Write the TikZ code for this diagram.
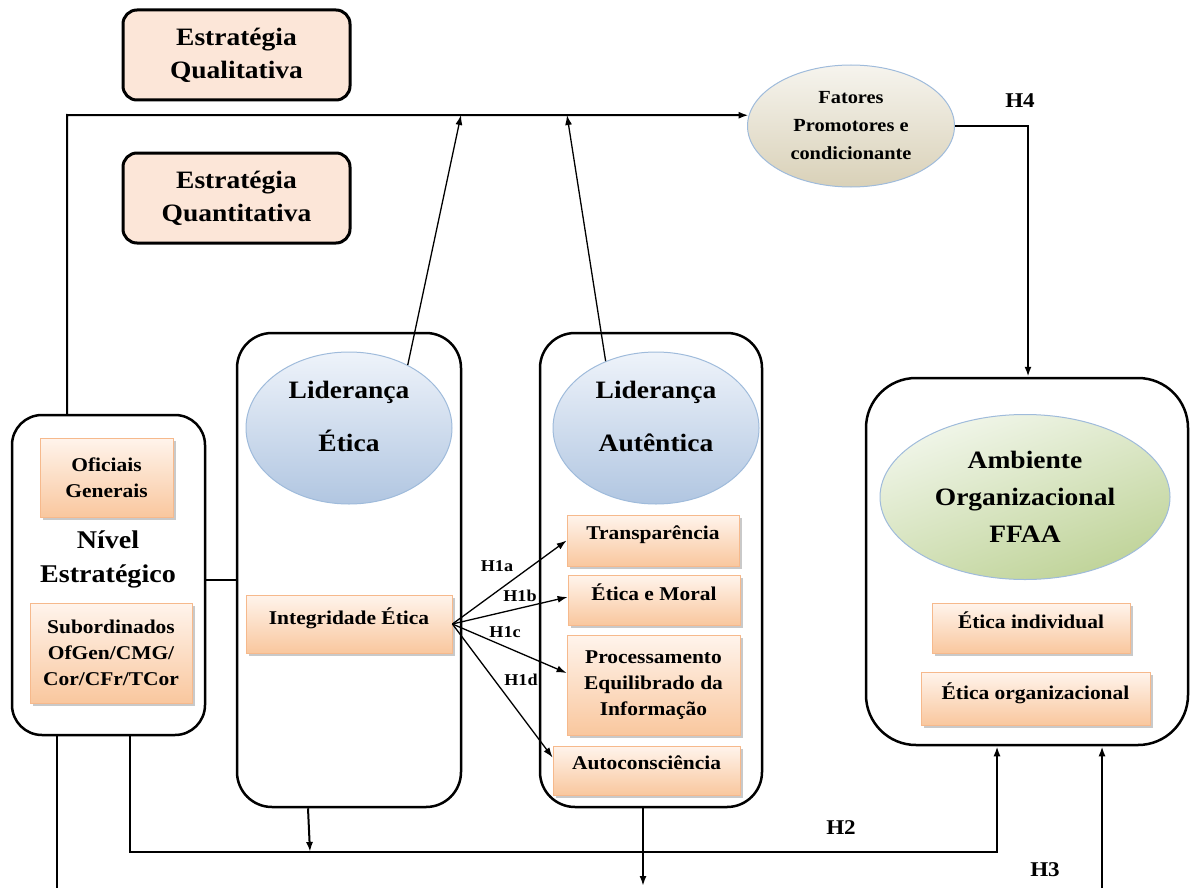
\documentclass[tikz,border=0pt]{standalone}
\usepackage{fontspec}
\setmainfont{Liberation Serif}[FakeStretch=1.1]
\usetikzlibrary{arrows.meta,shapes.geometric,shadows}

\definecolor{peach}{HTML}{FCE6D8}
\definecolor{otop}{HTML}{FFF4EC}
\definecolor{obot}{HTML}{F9C79E}
\definecolor{oedge}{HTML}{F6B98C}
\definecolor{btop}{HTML}{EEF3FA}
\definecolor{bbot}{HTML}{B1C6E1}
\definecolor{gtop}{HTML}{F1F6EA}
\definecolor{gbot}{HTML}{BFD398}
\definecolor{ytop}{HTML}{F6F4EE}
\definecolor{ybot}{HTML}{D9D1B8}
\definecolor{eedge}{HTML}{9FBBDB}

\begin{document}
\begin{tikzpicture}[x=1pt,y=-1pt,
  stratbox/.style={draw, line width=3pt, rounded corners=14pt, fill=peach,
    minimum width=227pt, minimum height=90pt, align=center,
    font=\fontsize{25}{33}\selectfont\bfseries},
  frame/.style={draw, line width=2.5pt, inner sep=0pt},
  obox/.style={draw=oedge, line width=0.8pt, top color=otop, bottom color=obot,
    drop shadow={shadow xshift=2.5pt, shadow yshift=-3pt, fill=black!30, opacity=0.7},
    align=center, inner sep=2pt, font=\fontsize{19.5}{26}\selectfont\bfseries},
  oneline/.style={text depth=15pt},
  oval/.style={ellipse, draw=eedge, line width=1pt, inner sep=0pt},
  bigtext/.style={align=center, font=\fontsize{25.5}{34}\selectfont\bfseries},
  hlab/.style={font=\fontsize{21}{23}\selectfont\bfseries},
  hsmall/.style={font=\fontsize{16.5}{18}\selectfont\bfseries},
  link/.style={line width=2pt},
  tip/.style={-{Latex[length=10pt,width=7pt]}},
  arr/.style={line width=1.3pt, -{Latex[length=10pt,width=7pt]}},
  harr/.style={line width=1.3pt, -{Latex[length=10pt,width=7pt]}}
]
\useasboundingbox (0,0) rectangle (1190,888);

% strategy boxes
\node[stratbox] (qual)  at (236.5,55)  {Estratégia\\Qualitativa};
\node[stratbox] (quant) at (236.5,198) {Estratégia\\Quantitativa};

% large frames
\node[frame, rounded corners=30pt, minimum width=193pt, minimum height=320pt] (niv) at (108.5,575) {};
\node[frame, rounded corners=35pt, minimum width=224pt, minimum height=474pt] (le)  at (349,570) {};
\node[frame, rounded corners=35pt, minimum width=222pt, minimum height=474pt] (la)  at (651,570) {};
\node[frame, rounded corners=50pt, minimum width=322pt, minimum height=367pt] (amb) at (1027,561.5) {};

% factors ellipse
\node[oval, top color=ytop, bottom color=ybot, minimum width=207pt, minimum height=122pt,
      align=center, font=\fontsize{18.5}{28}\selectfont\bfseries] (fat) at (851,126)
      {Fatores\\Promotores e\\condicionante};

% strategic level
\node[obox, minimum width=133pt, minimum height=79pt] (ofi) at (106.5,477.5) {Oficiais\\Generais};
\node[bigtext] (nivT) at (108,559) {Nível\\Estratégico};
\node[obox, minimum width=162pt, minimum height=100pt] (sub) at (111,653) {Subordinados\\OfGen/CMG/\\Cor/CFr/TCor};

% ethical leadership
\node[oval, top color=btop, bottom color=bbot, minimum width=206pt, minimum height=152pt] (leE) at (349,428) {};
\node[align=center, font=\fontsize{25}{53}\selectfont\bfseries] (leT) at (349,416) {Liderança\\Ética};
\node[obox, oneline, minimum width=206pt, minimum height=58pt] (integ) at (349,624) {Integridade Ética};

% authentic leadership
\node[oval, top color=btop, bottom color=bbot, minimum width=206pt, minimum height=152pt] (laE) at (656,428) {};
\node[align=center, font=\fontsize{25}{53}\selectfont\bfseries] (laT) at (656,416) {Liderança\\Autêntica};
\node[obox, oneline, minimum width=172pt, minimum height=51pt] (transp) at (653,540.5) {Transparência};
\node[obox, oneline, minimum width=172pt, minimum height=50pt] (etm) at (654,600) {Ética e Moral};
\node[obox, minimum width=173pt, minimum height=100pt] (proc) at (653.5,685) {Processamento\\Equilibrado da\\Informação};
\node[obox, oneline, minimum width=187pt, minimum height=49pt] (auto) at (646.5,770.5) {Autoconsciência};

% organisational environment
\node[oval, top color=gtop, bottom color=gbot, shading angle=20, minimum width=290pt, minimum height=165pt,
      align=center, font=\fontsize{25}{37}\selectfont\bfseries] (ambE) at (1025,497)
      {Ambiente\\Organizacional\\FFAA};
\node[obox, oneline, minimum width=198pt, minimum height=50pt] (eind) at (1031,628) {Ética individual};
\node[obox, oneline, minimum width=229pt, minimum height=53pt] (eorg) at (1035.5,698.5) {Ética organizacional};

% reference points for connector ends
\coordinate (topL) at (67,115);
\coordinate (upE) at (461,115);
\coordinate (upA) at (567,115);
\coordinate (h4x) at (1028,127);
\coordinate (b3L) at (57,888);
\coordinate (b3R) at (1102,888);
\coordinate (b2L) at (130,852);
\coordinate (b2R) at (997,852);
\coordinate (leDrop) at (310,852);
\coordinate (leStart) at (308,0);
\coordinate (laDrop) at (643,886);

% connectors
\draw[link, tip] (niv.north -| topL) -- (topL) -- (fat.174);
\draw[arr] (leE.47) -- (upE);
\draw[arr] (laE.127) -- (upA);
\draw[link, tip] (fat.east) -| (amb.north -| h4x);
\draw[link] ([yshift=-5pt]niv.east) -- ([yshift=-10pt]le.west);

\draw[harr] (integ.east) -- (transp.west);
\draw[harr] (integ.east) -- ([yshift=3pt]etm.west);
\draw[harr] (integ.east) -- ([yshift=12pt]proc.west);
\draw[harr] (integ.east) -- ([yshift=13pt]auto.west);

\draw[link] (niv.south -| b3L) -- (b3L);
\draw[link, tip] (b3R) -- (amb.south -| b3R);
\draw[link, tip] (niv.south -| b2L) -- (b2L) -- (b2R) -- (amb.south -| b2R);
\draw[link, tip] (le.south -| leStart) -- (leDrop);
\draw[link, tip] (la.south -| laDrop) -- (laDrop);

% hypothesis labels
\node[hlab] (h4) at (1020,101) {H4};
\node[hlab] (h2) at (841,828) {H2};
\node[hlab] (h3) at (1045,870) {H3};
\node[hsmall] (h1a) at (497,566) {H1a};
\node[hsmall] (h1b) at (520,596) {H1b};
\node[hsmall] (h1c) at (505,632) {H1c};
\node[hsmall] (h1d) at (521,680) {H1d};
\end{tikzpicture}
\end{document}
